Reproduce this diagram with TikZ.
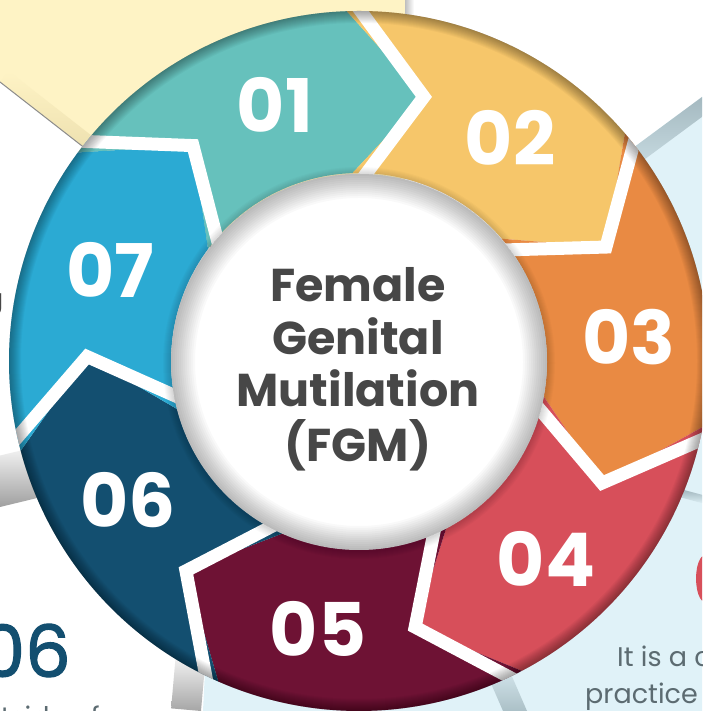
\documentclass[tikz,border=0pt]{standalone}
\usepackage{fontspec}
\newfontfamily\pop{Poppins}
\newfontfamily\popmed{Poppins}[FakeBold=1.6]
\definecolor{c1}{HTML}{66C1BC}
\definecolor{c2}{HTML}{F6C66A}
\definecolor{c3}{HTML}{E98A43}
\definecolor{c4}{HTML}{D74F5A}
\definecolor{c5}{HTML}{6E1234}
\definecolor{c6}{HTML}{134F70}
\definecolor{c7}{HTML}{2BAAD3}
\definecolor{cardyellow}{HTML}{FEF3C5}
\definecolor{yshadow}{HTML}{D6C690}
\definecolor{cardblue}{HTML}{E0F2F8}
\definecolor{bshadow}{HTML}{A3B8BF}
\definecolor{titlegray}{HTML}{474747}
\definecolor{bodygray}{HTML}{5C6B71}
\tikzset{
  num/.style={text=white, inner sep=0pt, font=\pop\bfseries\fontsize{74}{74}\selectfont},
  titleline/.style={anchor=base, inner sep=0pt, text=titlegray, font=\pop\bfseries\fontsize{46}{52}\selectfont},
  heading/.style={inner sep=0pt, font=\popmed\fontsize{72}{72}\selectfont},
  bodytext/.style={inner sep=0pt, text=bodygray, font=\pop\fontsize{27}{30}\selectfont},
}
\begin{document}
\begin{tikzpicture}[x=1pt,y=1pt]
\useasboundingbox (0,0) rectangle (702,711);
\clip (0,0) rectangle (702,711);
\fill[white] (0,0) rectangle (702,711);
% ---------- background cards ----------
\fill[cardyellow] (0,711) -- (405,711) -- (405,461) -- (200,473) -- (0,629) -- cycle;
\begin{scope}[shift={(0,629)}, rotate=-37.95]
  \shade[top color=cardyellow, bottom color=yshadow] (0,0) rectangle (300,14);
  \draw[black!45, line width=1pt] (0,0) -- (300,0);
\end{scope}
\shade[left color=black!25, right color=white] (405,690) rectangle (414,711);
% left card bottom edge curl
\begin{scope}[shift={(0,204)}, rotate=13.6]
  \shade[top color=white, bottom color=black!38] (-5,0) rectangle (80,50);
\end{scope}
% light blue cards
\fill[cardblue] (702,614) -- (702,0) -- (203,0) -- (205,40) -- (359,350) -- (560,509) -- cycle;
\begin{scope}[shift={(560,509)}, rotate=36.48]
  \shade[top color=bshadow, bottom color=cardblue] (0,-16) rectangle (180,0);
\end{scope}
\begin{scope}[shift={(201,0)}, rotate=85]
  \shade[bottom color=black!35, top color=white] (0,0) rectangle (60,30);
\end{scope}
\begin{scope}[shift={(527,0)}, rotate=113.5]
  \shade[bottom color=bshadow, top color=cardblue] (0,0) rectangle (60,22);
\end{scope}
\begin{scope}[shift={(684,221)}, rotate=-15]
  \shade[top color=bshadow, bottom color=cardblue] (0,-8) rectangle (25,0);
\end{scope}
% card texts
\node[heading, text=c6, anchor=base east] (h06) at (71,34) {06};
\node[heading, text=c4, anchor=base west] (h04) at (692,106) {04};
\node[bodytext, anchor=base west] (t1) at (617,44) {It is a common};
\node[bodytext, anchor=base west] (t2) at (585,8) {practice in};
\node[bodytext, anchor=base west] (t3) at (-34,-15) {outside of};
\node[bodytext, text=titlegray, anchor=base east] (t4) at (3.5,402) {g};
% ---------- ring ----------
\begin{scope}[shift={(359,350)}]
  \foreach \a/\c in {143.43/c1, 92/c2, 40.57/c3, -10.86/c4, -62.29/c5, -113.71/c6, -165.14/c7} {
    \pgfmathsetmacro\b{\a-51.43}
    \pgfmathsetmacro\ta{\a-15.8}
    \pgfmathsetmacro\tb{\b-15.8}
    \fill[\c] (\a:350) arc[start angle=\a, end angle=\b, radius=350] -- (\tb:272) -- (\b:188)
      arc[start angle=\b, end angle=\a, radius=188] -- (\ta:272) -- cycle;
  }
  \begin{scope}
    \clip (0,0) circle[radius=350];
    \foreach \a in {143.43, 92, 40.57, -10.86, -62.29, -113.71, -165.14} {
      \pgfmathsetmacro\ta{\a-15.8}
      \draw[white, line width=13pt, line join=miter, miter limit=10] (\a:370) -- (\ta:272) -- (\a:170);
    }
    \foreach \w in {2,4,...,24}
      \draw[black, opacity=0.03, line width=\w pt] (0,0) circle[radius=350];
  \end{scope}
  % inner disc
  \foreach \w in {2,4,...,16}
    \draw[black, opacity=0.02, line width=\w pt] (0,-2) circle[radius=188];
  \fill[white] (0,-1) circle[radius=188];
  \begin{scope}
    \clip (0,-1) circle[radius=188];
    \foreach \w in {4,8,...,48}
      \draw[black, opacity=0.022, line width=\w pt] (0,-1) circle[radius=188];
  \end{scope}
\end{scope}
% ---------- numbers ----------
\node[num] (n01) at (275,606) {01};
\node[num] (n02) at (510,573) {02};
\node[num] (n03) at (629,374) {03};
\node[num] (n04) at (546,152) {04};
\node[num] (n05) at (318,82) {05};
\node[num] (n06) at (128,211) {06};
\node[num] (n07) at (110,441) {07};
% ---------- title ----------
\node[titleline] (l1) at (358,409) {Female};
\node[titleline] (l2) at (358,356) {Genital};
\node[titleline] (l3) at (358,304) {Mutilation};
\node[titleline] (l4) at (358,249) {(FGM)};
\end{tikzpicture}
\end{document}
